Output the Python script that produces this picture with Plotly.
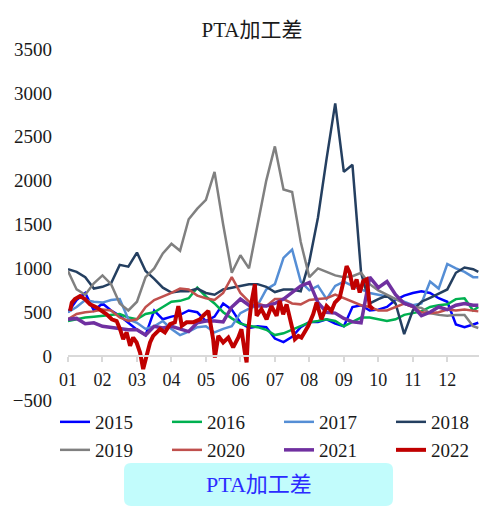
import plotly.graph_objects as go

# week positions in months (1 = start of Jan)
X = [1.0, 1.25, 1.5, 1.75, 2.0, 2.25, 2.5, 2.75, 3.0, 3.25, 3.5, 3.75,
     4.0, 4.25, 4.5, 4.75, 5.0, 5.25, 5.5, 5.75, 6.0, 6.25, 6.5, 6.75,
     7.0, 7.25, 7.5, 7.75, 8.0, 8.25, 8.5, 8.75, 9.0, 9.25, 9.5, 9.75,
     10.0, 10.25, 10.5, 10.75, 11.0, 11.25, 11.5, 11.75, 12.0, 12.25, 12.5, 12.75, 12.9]

y2015 = [500, 640, 720, 520, 600, 520, 460, 380, 300, 240, 520, 420, 450, 470, 520, 500, 400,
         450, 600, 530, 380, 320, 340, 330, 200, 160, 220, 330, 390, 390, 420, 370, 340, 560,
         580, 520, 530, 560, 640, 690, 720, 740, 720, 660, 620, 360, 330, 360, 380]
y2016 = [400, 420, 440, 450, 460, 470, 480, 440, 420, 480, 500, 560, 620, 630, 660, 780, 680,
         600, 500, 430, 370, 345, 330, 300, 240, 260, 300, 340, 385, 400, 420, 400, 340, 390,
         440, 440, 420, 400, 420, 470, 490, 510, 560, 580, 590, 650, 660, 520, 560]
y2017 = [500, 560, 640, 620, 610, 640, 650, 420, 380, 310, 340, 400, 310, 240, 280, 330, 340,
         270, 310, 340, 490, 540, 580, 760, 820, 1120, 1215, 850, 750, 800, 650, 800, 850, 800,
         760, 720, 700, 680, 650, 620, 580, 600, 850, 770, 1050, 1000, 960, 900, 900]
y2018 = [990, 960, 900, 770, 790, 830, 1040, 1020, 1180, 970, 880, 780, 725, 740, 740, 770, 720,
         700, 760, 780, 800, 820, 820, 790, 730, 760, 760, 740, 1080, 1580, 2250, 2880, 2100, 2180,
         950, 600, 650, 690, 600, 250, 520, 620, 665, 710, 760, 950, 1010, 990, 960]
y2019 = [970, 760, 700, 830, 920, 820, 600, 520, 620, 900, 1000, 1170, 1280, 1200, 1560, 1680,
         1780, 2100, 1500, 950, 1150, 1000, 1500, 2000, 2390, 1900, 1870, 1300, 900, 1000, 960,
         920, 900, 910, 950, 820, 750, 700, 650, 600, 560, 550, 490, 470, 460, 470, 470, 340, 320]
y2020 = [420, 480, 500, 510, 530, 520, 440, 400, 420, 560, 640, 680, 720, 770, 760, 690, 660,
         640, 720, 900, 720, 620, 600, 570, 650, 650, 600, 590, 640, 650, 660, 700, 660, 620,
         580, 560, 520, 520, 560, 600, 560, 500, 490, 500, 530, 520, 530, 520, 510]
y2021 = [420, 430, 370, 380, 340, 330, 310, 300, 300, 240, 340, 320, 340, 310, 280, 380, 400,
         400, 390, 560, 650, 580, 570, 570, 600, 650, 730, 800, 840, 610, 500, 490, 430, 390,
         380, 900, 780, 850, 700, 600, 570, 460, 500, 560, 530, 580, 600, 580, 580]

# 2022 is only available up to early October, sampled more densely
x2022 = [1.06, 1.11, 1.20, 1.35, 1.49, 1.64, 1.83, 1.98, 2.12, 2.27, 2.41, 2.51, 2.60, 2.70,
         2.80, 2.89, 2.99, 3.09, 3.18, 3.28, 3.38, 3.47, 3.67, 3.81, 3.96, 4.10, 4.20, 4.30,
         4.44, 4.63, 4.83, 4.92, 5.07, 5.21, 5.26, 5.36, 5.50, 5.65, 5.79, 5.94, 6.03, 6.13,
         6.18, 6.23, 6.32, 6.42, 6.47, 6.61, 6.76, 6.90, 7.05, 7.14, 7.24, 7.34, 7.43, 7.58,
         7.68, 7.77, 7.97, 8.11, 8.21, 8.35, 8.50, 8.64, 8.74, 8.88, 8.98, 9.08, 9.17, 9.27,
         9.37, 9.46, 9.56, 9.66, 9.70, 9.75, 9.85]
y2022 = [515, 610, 650, 685, 650, 590, 555, 515, 477, 420, 400, 307, 193, 270, 117, 212, 155,
         40, -148, 3, 155, 230, 307, 270, 365, 385, 570, 345, 385, 385, 420, 460, 515, 193, -15,
         230, 155, 212, 99, 212, 307, 40, -72, 307, 610, 820, 460, 535, 420, 570, 460, 630, 477,
         590, 420, 193, 230, 212, 345, 477, 610, 420, 570, 515, 610, 665, 835, 1025, 950, 760,
         875, 725, 855, 875, 760, 570, 535]

month_vals = [1, 2, 3, 4, 5, 6, 7, 8, 9, 10, 11, 12]
month_text = ["01", "02", "03", "04", "05", "06", "07", "08", "09", "10", "11", "12"]
y_ticks = [-500, 0, 500, 1000, 1500, 2000, 2500, 3000, 3500]

series = [
    ("2015", X, y2015, "#0000FF", 2.5, "legend"),
    ("2016", X, y2016, "#00B050", 2.5, "legend"),
    ("2017", X, y2017, "#558ED5", 2.5, "legend"),
    ("2018", X, y2018, "#243F60", 2.5, "legend"),
    ("2019", X, y2019, "#808080", 2.5, "legend2"),
    ("2020", X, y2020, "#C0504D", 2.5, "legend2"),
    ("2021", X, y2021, "#7030A0", 3.5, "legend2"),
    ("2022", x2022, y2022, "#C00000", 4, "legend2"),
]

FONT = "Liberation Serif, Noto Sans CJK SC, serif"

fig = go.Figure()
for name, xs, ys, color, w, lg in series:
    fig.add_trace(go.Scatter(x=xs, y=ys, name=name, mode="lines",
                             line=dict(color=color, width=w), legend=lg))

# plot area in pixels, used to place the caption box below the chart
L, R, T, B = 68, 24, 49, 116
W, H = 503, 516
pw, ph = W - L - R, H - T - B


def px2paper(px, py):
    return (px - L) / pw, (H - B - py) / ph


def rounded_box(x0, y0, x1, y1, r):
    # x/y in pixels (y down), returns an svg path in paper coords
    def P(x, y):
        a, b = px2paper(x, y)
        return f"{a:.4f},{b:.4f}"
    return (f"M{P(x0 + r, y0)} L{P(x1 - r, y0)} Q{P(x1, y0)} {P(x1, y0 + r)} "
            f"L{P(x1, y1 - r)} Q{P(x1, y1)} {P(x1 - r, y1)} L{P(x0 + r, y1)} "
            f"Q{P(x0, y1)} {P(x0, y1 - r)} L{P(x0, y0 + r)} Q{P(x0, y0)} {P(x0 + r, y0)} Z")


bx, by = px2paper(258.5, 485)
fig.add_shape(type="path", xref="paper", yref="paper",
              path=rounded_box(124, 463, 393, 506, 7),
              fillcolor="#c2fcfc", line=dict(width=0), layer="below")
fig.add_annotation(text="PTA加工差", xref="paper", yref="paper", x=bx, y=by,
                   xanchor="center", yanchor="middle", showarrow=False,
                   font=dict(size=22, color="#2b2bff", family=FONT))

legend_style = dict(orientation="h", x=-0.002, xanchor="left", yanchor="middle",
                    entrywidth=67, entrywidthmode="pixels", font=dict(size=19),
                    bgcolor="rgba(0,0,0,0)")

fig.update_layout(
    width=W, height=H,
    margin=dict(l=L, r=R, t=T, b=B),
    paper_bgcolor="white", plot_bgcolor="white",
    font=dict(family=FONT, size=19, color="#1a1a1a"),
    title=dict(text="PTA加工差", x=252 / W, y=1 - 30 / H, xref="container", yref="container",
               xanchor="center", yanchor="middle", font=dict(size=21, color="#1a1a1a")),
    xaxis=dict(range=[1, 12.92], tickvals=month_vals, ticktext=month_text,
               showgrid=False, zeroline=False, showline=True, linecolor="#d9d9d9", linewidth=1.5,
               ticks="outside", ticklen=5, tickcolor="#d9d9d9", tickwidth=1.5,
               anchor="free", position=500 / 4000, tickfont=dict(size=18),
               ticklabelstandoff=3),
    yaxis=dict(range=[-500, 3500], tickvals=y_ticks, showgrid=False, zeroline=False,
               showline=False, ticks="", ticklabelstandoff=15, tickfont=dict(size=19)),
    legend=dict(legend_style, y=px2paper(0, 422)[1]),
    legend2=dict(legend_style, y=px2paper(0, 450)[1]),
)

# the page body has a default 8px margin; drop it so the figure sits at the window corner
fig.write_html("out.html", config={"displayModeBar": False},
               post_script="document.body.style.margin='0px';")
